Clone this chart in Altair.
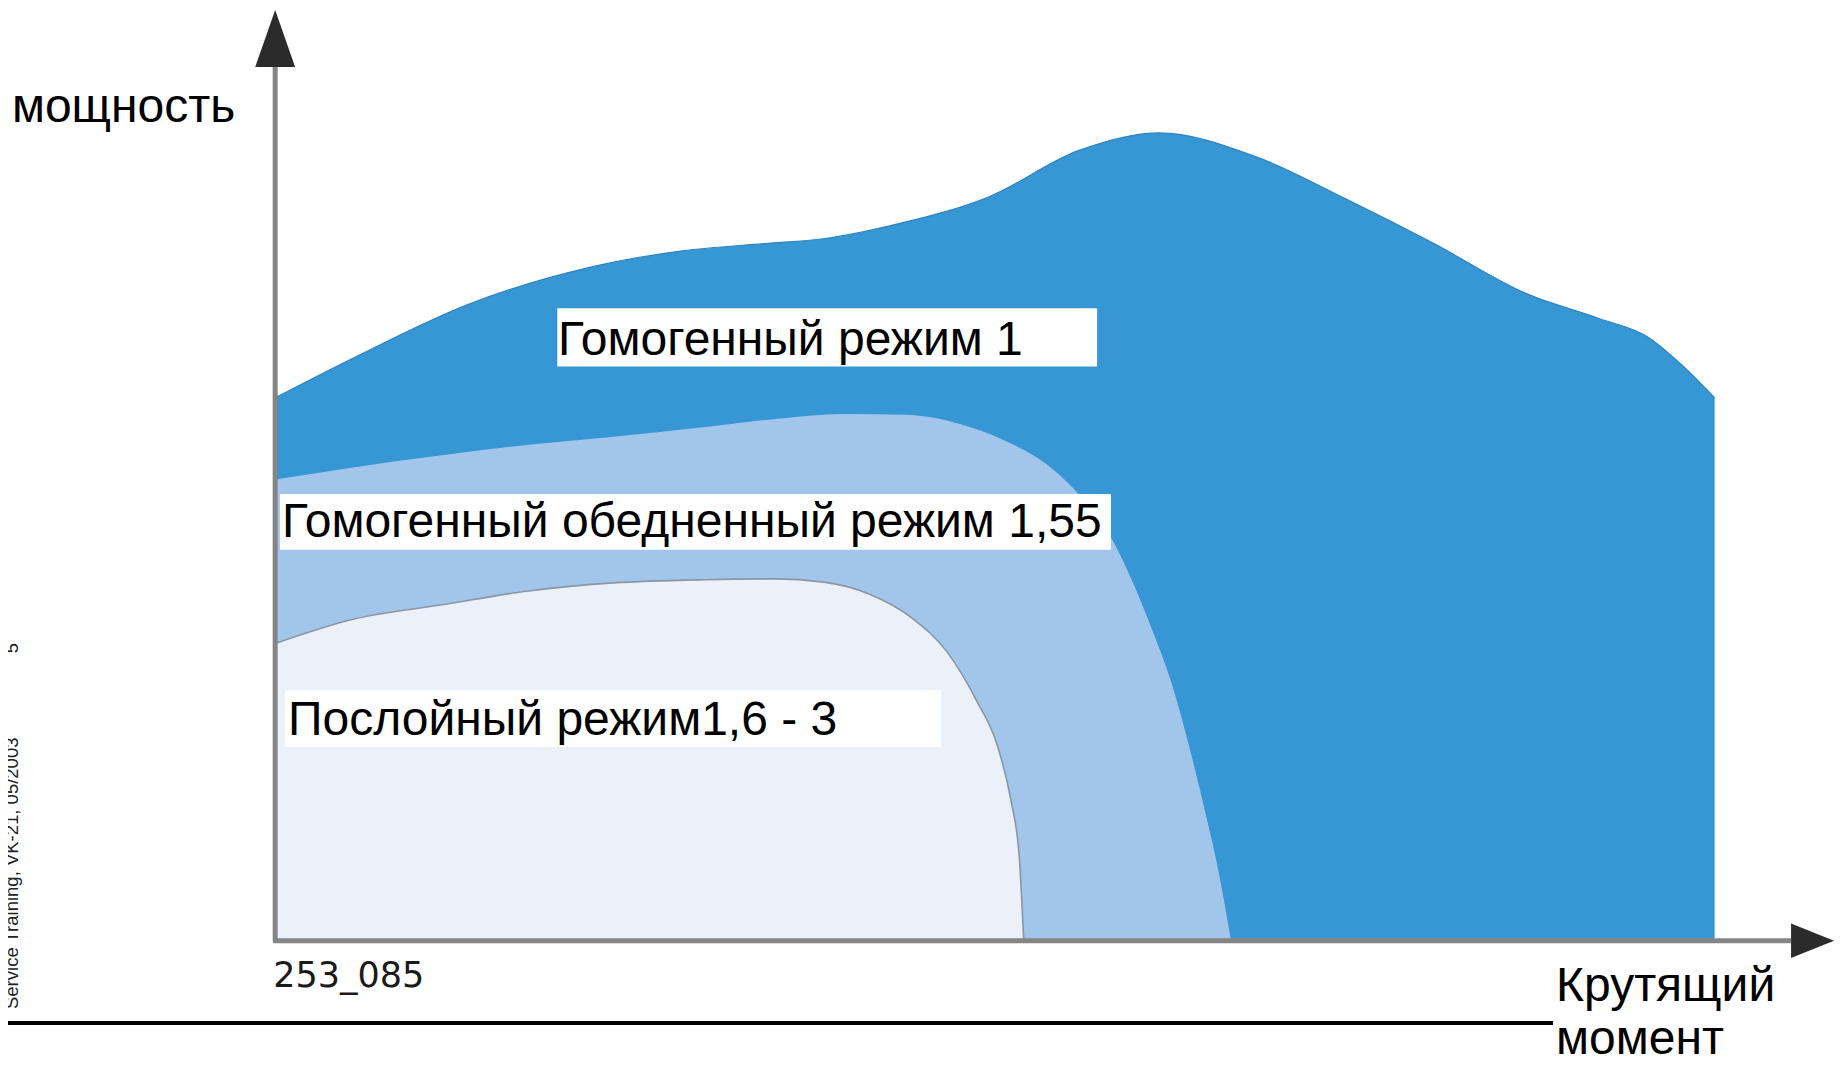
import altair as alt
import pandas as pd

# ---- data (torque in % of max, power in % of peak) ----
torque_outer = [0, 5.4, 13.6, 21.7, 28.3, 34.0, 38.1, 43.4, 49.6, 55.8, 61.4, 68.2, 74.4, 80.6, 86.8, 92.0, 95.3, 97.7, 100]
power_outer = [67.2, 72.1, 78.9, 83.3, 85.4, 86.3, 86.9, 88.8, 92.1, 97.8, 100, 97.0, 91.8, 86.2, 80.2, 77.0, 74.8, 71.3, 67.2]

torque_mid = [0, 5.4, 11.6, 17.6, 23.5, 29.9, 34.8, 39.5, 43.8, 47.5, 50.7, 53.5, 56.0, 58.1, 59.5, 60.9, 62.2, 63.4, 64.6, 65.6, 66.4]
power_mid = [57.1, 58.6, 60.1, 61.4, 62.4, 63.6, 64.6, 65.2, 65.1, 64.0, 61.9, 59.1, 54.9, 49.8, 44.7, 38.6, 32.3, 24.7, 16.0, 8.0, 0]

torque_inner = [0, 5.4, 11.6, 17.6, 23.5, 29.9, 34.7, 38.1, 41.3, 44.2, 46.7, 48.7, 50.2, 51.1, 51.7, 52.0]
power_inner = [36.8, 39.8, 41.6, 43.3, 44.3, 44.7, 44.8, 44.4, 42.9, 40.0, 35.7, 29.8, 24.0, 17.5, 10.2, 0]

label_texts = ["Гомогенный режим 1", "Гомогенный обедненный режим 1,55", "Послойный режим1,6 - 3"]
label_x = [19.65, 0.47, 0.89]
label_y = [72.5, 50.0, 25.5]
box_x1 = [19.6, 0.33, 0.68]
box_x2 = [57.1, 58.06, 46.25]
box_y1 = [71.1, 48.4, 24.0]
box_y2 = [78.3, 55.3, 31.0]

y_title = "мощность"
x_title = ["Крутящий", "момент"]
fig_code = "253_085"
side_note = "Service Training, VK-21, 05/2003"
page_no = "5"

# ---- geometry of the drawing ----
W, H = 1828, 1049
X_DOMAIN = [-18.56, 108.43]
Y_DOMAIN = [-14.38, 115.46]
xs = alt.Scale(domain=X_DOMAIN, nice=False, zero=False)
ys = alt.Scale(domain=Y_DOMAIN, nice=False, zero=False)

C_OUTER = "#3796D4"
C_MID = "#A2C6EB"
C_INNER = "#ECF0F9"
AXIS_GRAY = "#858585"
ARROW = "#2b2b2b"
FONT = "Liberation Sans"


def X(field="t"):
    return alt.X(f"{field}:Q", scale=xs, axis=None)


def Y(field="p"):
    return alt.Y(f"{field}:Q", scale=ys, axis=None)


def region(tq, pw, color):
    df = pd.DataFrame({"t": tq, "p": pw, "b": [0] * len(tq)})
    return alt.Chart(df).mark_area(interpolate="monotone", color=color, opacity=1).encode(
        x=X(), y=Y(), y2="b:Q"
    )


def edge(tq, pw, color, w):
    df = pd.DataFrame({"t": tq, "p": pw})
    return alt.Chart(df).mark_line(interpolate="monotone", color=color, strokeWidth=w).encode(
        x=X(), y=Y()
    )


outer = region(torque_outer, power_outer, C_OUTER)
mid = region(torque_mid, power_mid, C_MID)
inner = region(torque_inner, power_inner, C_INNER)
outer_edge = edge(torque_outer, power_outer, "#2f84c0", 1.2)
inner_edge = edge(torque_inner, power_inner, "#8a96a3", 1.6)

# axes (segments in data units)
axes_df = pd.DataFrame({"t": [0, -0.15], "t2": [0, 105.3], "p": [0, 0], "p2": [108.2, 0]})
axes = alt.Chart(axes_df).mark_rule(color=AXIS_GRAY, strokeWidth=5).encode(
    x=X(), x2="t2:Q", y=Y(), y2="p2:Q"
)
y_arrow = alt.Chart(pd.DataFrame({"t": [0], "p": [111.7]})).mark_point(
    shape="M0,-1L0.7,1L-0.7,1Z", size=3249, filled=True, color=ARROW, opacity=1, strokeWidth=0
).encode(x=X(), y=Y())
x_arrow = alt.Chart(pd.DataFrame({"t": [106.8], "p": [0]})).mark_point(
    shape="M1,0L-1,-0.8L-1,0.8Z", size=1849, filled=True, color=ARROW, opacity=1, strokeWidth=0
).encode(x=X(), y=Y())

# labels with white boxes
lab = pd.DataFrame({
    "text": label_texts, "t": label_x, "p": label_y,
    "x1": box_x1, "x2": box_x2, "y1": box_y1, "y2": box_y2,
})
boxes = alt.Chart(lab).mark_rect(color="white").encode(
    x=X("x1"), x2="x2:Q", y=Y("y1"), y2="y2:Q"
)
labels = alt.Chart(lab).mark_text(
    align="left", baseline="alphabetic", font=FONT, fontSize=48, color="black"
).encode(x=X(), y=Y(), text="text:N")


def note(txt, t, p, size, color="black", angle=0, line_height=None, font=FONT):
    df = pd.DataFrame({"t": [t], "p": [p]})
    kw = dict(text=txt, align="left", baseline="alphabetic", font=font, fontSize=size, color=color)
    if angle:
        kw["angle"] = angle
    if line_height:
        kw["lineHeight"] = line_height
    return alt.Chart(df).mark_text(**kw).encode(x=X(), y=Y())


ytitle = note(y_title, -18.29, 101.3, 48)
xtitle = note(x_title, 88.98, -7.5, 48, line_height=53)
code = note(fig_code, -0.14, -5.67, 35, color="#1a1a1a", font="DejaVu Sans")
side = note(side_note, -17.87, -8.44, 18.5, color="#222222", angle=270)
page = note(page_no, -17.87, 35.6, 18.5, color="#222222", angle=270)

bottom_line = alt.Chart(pd.DataFrame({"t": [-19.5], "t2": [88.77], "p": [-10.17]})).mark_rule(
    color="black", strokeWidth=4
).encode(x=X(), x2="t2:Q", y=Y())

chart = alt.layer(
    outer, mid, inner, outer_edge, inner_edge,
    axes, y_arrow, x_arrow,
    boxes, labels, ytitle, xtitle, code, side, page, bottom_line,
).properties(
    width=W, height=H, padding=0, autosize="none", background="white"
).configure_view(stroke=None)

chart.save("out.html", embed_options={"renderer": "svg", "actions": False})
